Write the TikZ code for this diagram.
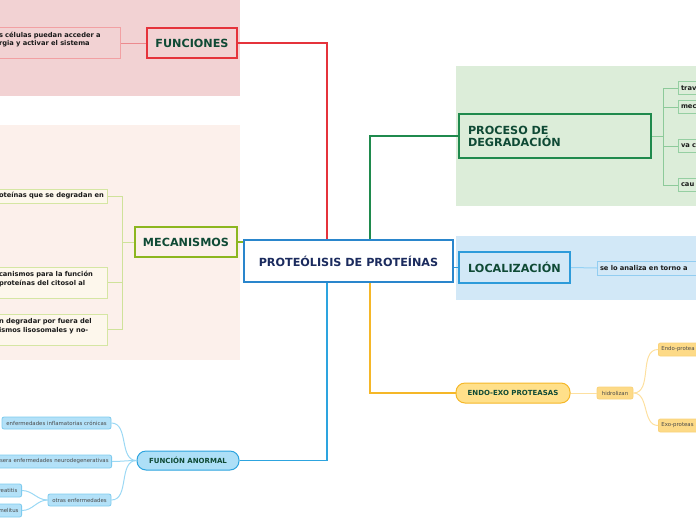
\documentclass[tikz,border=0pt]{standalone}
\usepackage{fontspec}
\setmainfont{DejaVu Sans}
\definecolor{funbg}{HTML}{F2D2D3}
\definecolor{funred}{HTML}{E5333B}
\definecolor{funleaf}{HTML}{F2A0A3}
\definecolor{funwire}{HTML}{EC8A8E}
\definecolor{rootblue}{HTML}{2A86CC}
\definecolor{roottext}{HTML}{1B2B5E}
\definecolor{topictext}{HTML}{0F4A35}
\definecolor{leaftext}{HTML}{1A1A1A}
\definecolor{tinytext}{HTML}{4A4A4A}
\definecolor{mecbg}{HTML}{FCF0EB}
\definecolor{mecgreen}{HTML}{8CB61F}
\definecolor{mecleaf}{HTML}{D5E6A3}
\definecolor{mecleafbg}{HTML}{FDF7EC}
\definecolor{mecwire}{HTML}{CFE29A}
\definecolor{procbg}{HTML}{DCEDD9}
\definecolor{procgreen}{HTML}{1F8A4D}
\definecolor{procleaf}{HTML}{95CFA2}
\definecolor{procwire}{HTML}{8DCA9A}
\definecolor{locbg}{HTML}{D2E8F7}
\definecolor{locblue}{HTML}{2D9BDA}
\definecolor{locleaf}{HTML}{92CDF1}
\definecolor{locwire}{HTML}{94D1F4}
\definecolor{endofill}{HTML}{FFE08A}
\definecolor{endoline}{HTML}{F5B728}
\definecolor{hidfill}{HTML}{FDDA87}
\definecolor{hidline}{HTML}{F9D27A}
\definecolor{endowire}{HTML}{FDE0A0}
\definecolor{anorfill}{HTML}{ADDFF7}
\definecolor{anorline}{HTML}{2DA4DF}
\definecolor{anorleaf}{HTML}{7ECBEE}
\definecolor{anorleafbg}{HTML}{B3E1F8}
\definecolor{anorwire}{HTML}{9BD8F4}
\begin{document}
\begin{tikzpicture}[
    x=1pt, y=-1pt,
    topic/.style={rectangle, draw, line width=2pt, inner sep=0pt, text=topictext, font=\fontsize{11.2}{12}\selectfont\bfseries},
    pill/.style={rectangle, draw, rounded corners=9pt, line width=1pt, inner sep=0pt, text=topictext, font=\fontsize{7}{8}\selectfont\bfseries},
    leaf/.style={rectangle, draw, line width=1pt, inner sep=2.5pt, align=left, text=leaftext, font=\fontsize{6.7}{8.5}\selectfont\bfseries},
    tiny/.style={rectangle, draw, rounded corners=2pt, line width=0.8pt, inner xsep=3pt, inner ysep=0pt, minimum height=12pt, text=tinytext, font=\fontsize{5.4}{6}\selectfont},
    branch/.style={line width=1.2pt},
    twig/.style={line width=1pt}
]
\useasboundingbox (0,0) rectangle (696,520);
\clip (0,0) rectangle (696,520);

% Backgrounds
\fill[funbg] (0,0) rectangle (240,96);
\fill[mecbg] (0,125) rectangle (240,360);
\fill[procbg] (456,66) rectangle (696,206);
\fill[locbg] (456,236) rectangle (696,300);

% Central topic
\node[topic, draw=rootblue, fill=white, text=roottext, minimum width=209pt, minimum height=42pt] (root) at (348.5,261) {PROTEÓLISIS DE PROTEÍNAS};

% Funciones
\node[topic, draw=funred, fill=funbg, minimum width=90pt, minimum height=30pt] (fun) at (192,43) {FUNCIONES};
\node[leaf, draw=funleaf, fill=funbg, anchor=east, text width=119pt, minimum height=31pt] (fun-a) at (121,43) {s células puedan acceder a\\rgia y activar el sistema\\\mbox{}};

% Mecanismos
\node[topic, draw=mecgreen, fill=mecbg, minimum width=102pt, minimum height=30pt] (mec) at (186,242) {MECANISMOS};
\node[leaf, draw=mecleaf, fill=mecleafbg, anchor=east, text width=106pt, minimum height=14pt] (mec-a) at (108,196) {oteínas que se degradan en};
\node[leaf, draw=mecleaf, fill=mecleafbg, anchor=east, text width=106pt, minimum height=31pt] (mec-b) at (108,282.5) {canismos para la función\\proteínas del citosol al\\\mbox{}};
\node[leaf, draw=mecleaf, fill=mecleafbg, anchor=east, text width=106pt, minimum height=31pt] (mec-c) at (108,329.5) {n degradar por fuera del\\ismos lisosomales y no-\\\mbox{}};
\coordinate (mec-fork) at ([xshift=-12pt]mec.west);

% Proceso de degradacion
\node[topic, draw=procgreen, fill=procbg, minimum width=192pt, minimum height=44pt, text width=174pt, align=left] (proc) at (555,136) {PROCESO DE\\DEGRADACIÓN};
\node[leaf, draw=procleaf, fill=procbg, anchor=west, text width=40pt, minimum height=13pt] (proc-a) at (678,88) {trav};
\node[leaf, draw=procleaf, fill=procbg, anchor=west, text width=40pt, minimum height=13pt] (proc-b) at (678,107) {mec};
\node[leaf, draw=procleaf, fill=procbg, anchor=west, text width=40pt, minimum height=13pt] (proc-c) at (678,146) {va c};
\node[leaf, draw=procleaf, fill=procbg, anchor=west, text width=40pt, minimum height=13pt] (proc-d) at (678,185) {cau};
\coordinate (proc-fork) at ([xshift=11pt]proc.east);

% Localizacion
\node[topic, draw=locblue, fill=locbg, minimum width=111pt, minimum height=31pt] (loc) at (514.5,267.5) {LOCALIZACIÓN};
\node[leaf, draw=locleaf, fill=locbg, anchor=west, text width=100pt, minimum height=14pt] (loc-a) at (597,268) {se lo analiza en torno a};

% Endo-exo proteasas
\node[pill, draw=endoline, fill=endofill, minimum width=114pt, minimum height=20pt] (endo) at (513,393) {ENDO-EXO PROTEASAS};
\node[tiny, draw=hidline, fill=hidfill, minimum width=36pt] (hid) at (615,393) {hidrolizan};
\node[tiny, draw=hidline, fill=hidfill, anchor=west, text width=50pt, align=left, minimum height=13pt] (endo-a) at (658,349.5) {Endo-protea};
\node[tiny, draw=hidline, fill=hidfill, anchor=west, text width=50pt, align=left, minimum height=13pt] (endo-b) at (658,425.5) {Exo-proteas};

% Funcion anormal
\node[pill, draw=anorline, fill=anorfill, minimum width=102pt, minimum height=19pt] (anor) at (188,460.5) {FUNCIÓN ANORMAL};
\node[tiny, draw=anorleaf, fill=anorleafbg, minimum width=109pt] (anor-a) at (56.5,423) {enfermedades inflamatorias crónicas};
\node[tiny, draw=anorleaf, fill=anorleafbg, anchor=east, text width=116pt, align=right, minimum height=13pt] (anor-b) at (112,461.5) {sera enfermedades neurodegenerativas};
\node[tiny, draw=anorleaf, fill=anorleafbg, minimum width=63pt] (anor-c) at (79.5,500) {otras enfermedades};
\node[tiny, draw=anorleaf, fill=anorleafbg, anchor=east, text width=20pt, align=left, minimum height=13pt] (anor-c1) at (22,490.5) {reatitis};
\node[tiny, draw=anorleaf, fill=anorleafbg, anchor=east, text width=20pt, align=left, minimum height=13pt] (anor-c2) at (22,510.5) {melitus};

% Main branches
\draw[branch, funred] (fun.east) -| ([xshift=-21.5pt]root.north);
\draw[branch, procgreen] ([xshift=21.5pt]root.north) |- (proc.west);
\draw[branch, locblue] (root.east |- loc.west) -- (loc.west);
\draw[branch, endoline] ([xshift=21.5pt]root.south) |- (endo.west);
\draw[branch, anorline] ([xshift=-21.5pt]root.south) |- (anor.east);
\draw[branch, mecgreen] (mec.east) -- (mec.east -| root.west);

% Sub branches
\draw[twig, funwire] (fun.west) -- (fun-a.east);
\draw[twig, mecwire] (mec.west) -- (mec-fork) |- (mec-a.east);
\draw[twig, mecwire] (mec-fork) |- (mec-b.east);
\draw[twig, mecwire] (mec-fork) |- (mec-c.east);
\draw[twig, procwire] (proc.east) -- (proc-fork) |- (proc-a.west);
\draw[twig, procwire] (proc-fork) |- (proc-b.west);
\draw[twig, procwire] (proc-fork) |- (proc-c.west);
\draw[twig, procwire] (proc-fork) |- (proc-d.west);
\draw[twig, locwire] (loc.east) -- (loc-a.west);
\draw[twig, endowire] (endo.east) -- (hid.west);
\draw[twig, endowire] (hid.east) to[out=0, in=180] (endo-a.west);
\draw[twig, endowire] (hid.east) to[out=0, in=180] (endo-b.west);
\draw[twig, anorwire] (anor.west) to[out=180, in=0] (anor-a.east);
\draw[twig, anorwire] (anor.west) to[out=180, in=0] (anor-b.east);
\draw[twig, anorwire] (anor.west) to[out=180, in=0] (anor-c.east);
\draw[twig, anorwire] (anor-c.west) to[out=180, in=0] (anor-c1.east);
\draw[twig, anorwire] (anor-c.west) to[out=180, in=0] (anor-c2.east);

\end{tikzpicture}
\end{document}
